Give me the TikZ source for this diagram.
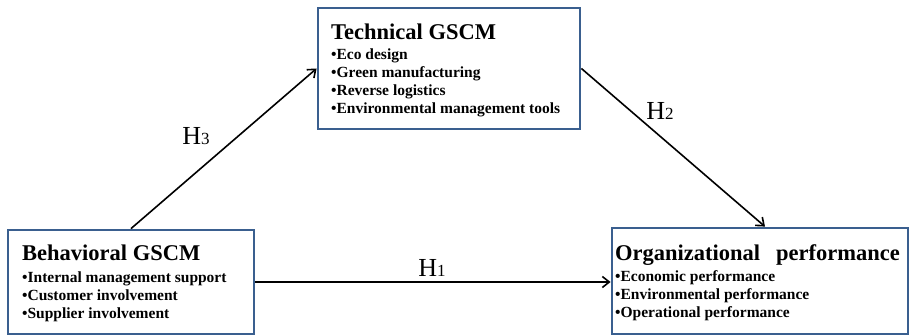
\documentclass[tikz,border=0pt]{standalone}
\usepackage{fontspec}
\setmainfont{Liberation Serif}
\usetikzlibrary{arrows.meta,calc}
\definecolor{boxblue}{RGB}{58,95,143}
\tikzset{
  gbox/.style={draw=boxblue, line width=2.8pt, fill=white, rectangle, inner sep=0pt},
  ttl/.style={anchor=base west, inner sep=0pt, font=\fontsize{22.5}{26}\selectfont\bfseries},
  blist/.style={anchor=base west, inner sep=0pt},
  conn/.style={line width=1.6pt, -{Straight Barb[length=7pt,width=11pt,line width=1.6pt]}},
  hlab/.style={inner sep=0pt, font=\fontsize{26}{30}\selectfont}
}
\newcommand{\bl}[1]{\parbox[t]{10cm}{\fontsize{15.5}{18}\selectfont\bfseries #1}}
\newcommand{\hh}[1]{H{\fontsize{17}{20}\selectfont #1}}
\begin{document}
\begin{tikzpicture}[x=1pt,y=-1pt]
\useasboundingbox (0,0) rectangle (910,336);
\node[gbox, minimum width=262pt, minimum height=121pt] (tech) at (449,68.5) {};
\node[gbox, minimum width=246pt, minimum height=104pt] (beh) at (131,282) {};
\node[gbox, minimum width=296pt, minimum height=106pt] (org) at (760,281) {};
\node[ttl] (techt) at (331,40) {Technical GSCM};
\node[blist] (techl) at (331,60) {\bl{\textbullet Eco design\\ \textbullet Green manufacturing\\ \textbullet Reverse logistics\\ \textbullet Environmental management tools}};
\node[ttl] (beht) at (22,261) {Behavioral GSCM};
\node[blist] (behl) at (22,283) {\bl{\textbullet Internal management support\\ \textbullet Customer involvement\\ \textbullet Supplier involvement}};
\node[ttl] (orgt) at (615,261) {Organizational\hspace{16pt}performance};
\node[blist] (orgl) at (615,282) {\bl{\textbullet Economic performance\\ \textbullet Environmental performance\\ \textbullet Operational performance}};
\draw[conn] (beh.north) -- (tech.west);
\draw[conn] (tech.east) -- ([xshift=5pt]org.north);
\draw[conn] (beh.east) -- (beh.east -| org.west);
\node[hlab] (h3) at (196,136) {\hh{3}};
\node[hlab] (h2) at (660,111) {\hh{2}};
\node[hlab] (h1) at (432,268) {\hh{1}};
\end{tikzpicture}
\end{document}
